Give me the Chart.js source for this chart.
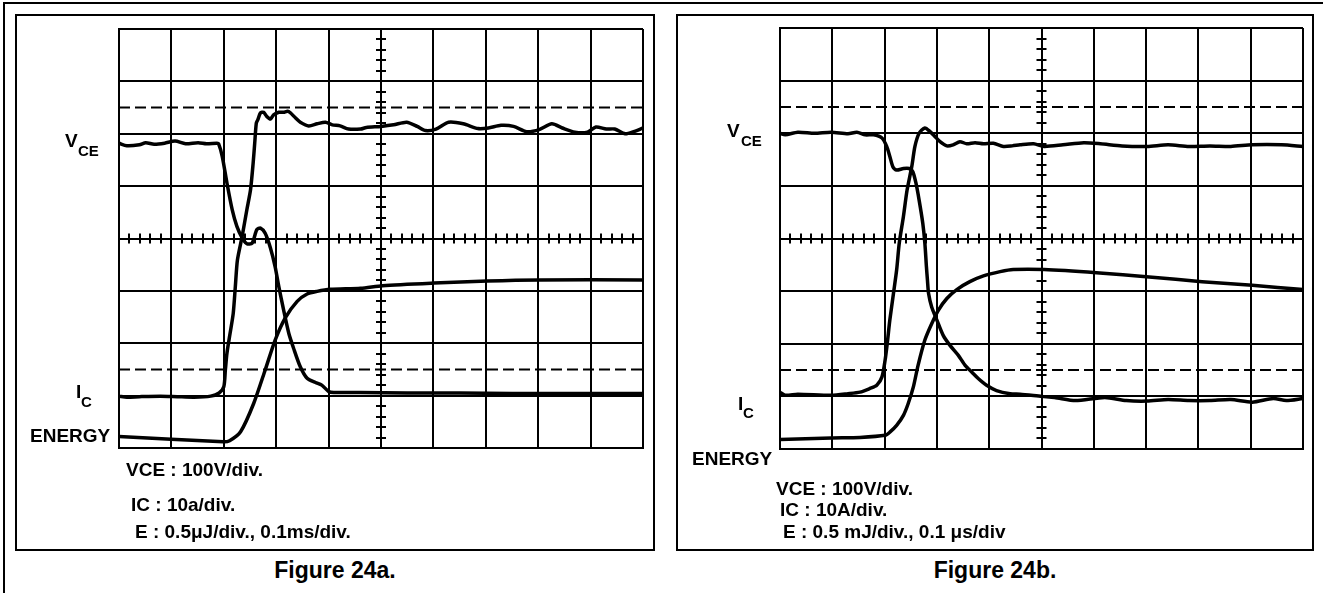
<!DOCTYPE html>
<html>
<head>
<meta charset="utf-8">
<script src="https://cdn.jsdelivr.net/npm/chart.js@4.4.1/dist/chart.umd.min.js"></script>
<style>
  html, body { margin:0; padding:0; background:#fff; width:1323px; height:593px; overflow:hidden; }
  .abs { position:absolute; box-sizing:border-box; }
  #frame { left:3px; top:2px; width:2000px; height:2000px; border-left:2px solid #000; border-top:2px solid #000; }
  .box { border:2px solid #000; }
  .cap { font: bold 23px "Liberation Sans", Arial, sans-serif; text-align:center; line-height:23px; color:#000; }
</style>
</head>
<body>
<div id="frame" class="abs"></div>
<div class="abs box" style="left:15px;top:14px;width:640px;height:537px;"></div>
<div class="abs box" style="left:676px;top:14px;width:638px;height:537px;"></div>
<canvas id="figA" class="abs" width="636" height="533" style="left:17px;top:16px;"></canvas>
<canvas id="figB" class="abs" width="634" height="533" style="left:678px;top:16px;"></canvas>
<div class="abs cap" style="left:15px;top:559px;width:640px;">Figure 24a.</div>
<div class="abs cap" style="left:676px;top:559px;width:638px;">Figure 24b.</div>
<script>
// Figure 24a
var aVceT = [0,0.15,0.39,0.51,0.67,0.87,1.07,1.27,1.51,1.67,1.87,1.90,1.97,2.06,2.16,2.25,2.35,2.44,2.54,2.63,
             2.70,2.79,2.89,2.98,3.05,3.14,3.24,3.33,3.46,3.59,3.75,3.87,4.00,4.10,4.60,5.5,6.5,7.5,8.5,10];
var aVce  = [5.82,5.77,5.79,5.83,5.80,5.82,5.86,5.81,5.83,5.81,5.82,5.81,5.57,5.06,4.55,4.23,4.01,3.90,3.91,4.17,
             4.20,4.10,3.82,3.46,3.08,2.64,2.19,1.91,1.55,1.33,1.25,1.20,1.08,1.06,1.06,1.05,1.05,1.04,1.04,1.04];
var aIcT  = [0,0.15,0.39,0.79,1.11,1.43,1.75,1.91,2.00,2.03,2.06,2.12,2.18,2.22,2.26,2.35,2.44,2.51,2.56,2.59,
             2.62,2.65,2.70,2.76,2.82,2.89,2.95,3.05,3.14,3.22,3.27,3.37,3.46,3.62,3.78,3.94,4.07,4.22,4.38,4.61,
             4.72,5.00,5.24,5.49,5.69,5.85,6.05,6.29,6.57,6.85,7.05,7.29,7.53,7.78,8.02,8.26,8.46,8.70,8.94,9.10,
             9.30,9.46,9.66,9.82,10];
var aIc   = [0.99,0.97,0.98,0.99,0.98,0.97,0.99,1.05,1.17,1.49,1.81,2.19,2.57,3.08,3.59,4.04,4.55,4.93,5.44,5.82,
             6.20,6.27,6.40,6.41,6.33,6.28,6.36,6.41,6.41,6.43,6.40,6.30,6.22,6.15,6.19,6.22,6.17,6.15,6.09,6.09,
             6.12,6.14,6.17,6.22,6.14,6.06,6.09,6.22,6.19,6.10,6.11,6.16,6.14,6.04,6.08,6.19,6.11,6.03,6.03,6.13,
             6.09,6.09,6.00,6.04,6.11];
var aEnT  = [0,1.99,2.11,2.32,2.57,2.79,2.98,3.17,3.40,3.59,3.78,4.03,4.61,5.03,6.01,7.03,8.02,10];
var aEn   = [0.22,0.12,0.14,0.31,0.85,1.49,2.06,2.48,2.80,2.94,2.99,3.03,3.05,3.10,3.15,3.19,3.21,3.21];

// Figure 24b
var bVceT = [0,0.10,0.34,0.66,0.98,1.30,1.47,1.63,1.79,1.95,2.04,2.10,2.16,2.23,2.36,2.47,2.54,2.60,2.66,2.73,
             2.77,2.80,2.82,2.84,2.90,3.00,3.12,3.25,3.41,3.54,3.67,3.79,3.95,4.14,4.40,4.59,5.01,5.25,5.65,6.21,
             6.62,7.02,7.42,7.82,8.22,8.62,9.03,9.43,9.68,10];
var bVce  = [6.00,5.97,6.02,6.00,6.02,5.99,6.02,5.97,5.97,5.91,5.75,5.56,5.36,5.30,5.33,5.33,5.27,5.05,4.73,4.29,
             3.91,3.46,3.20,2.96,2.70,2.45,2.16,1.97,1.78,1.59,1.46,1.34,1.21,1.11,1.05,1.04,1.00,0.98,0.92,0.98,
             0.92,0.91,0.94,0.92,0.92,0.94,0.89,0.96,0.92,0.96];
var bIcT  = [0,0.10,0.34,0.98,1.30,1.53,1.72,1.85,1.95,2.01,2.05,2.10,2.17,2.23,2.28,2.36,2.43,2.52,2.58,2.66,
             2.77,2.87,2.96,3.06,3.19,3.31,3.44,3.57,3.73,3.89,4.08,4.27,4.44,4.59,4.85,5.05,5.41,5.81,6.13,6.54,
             7.02,7.42,7.82,8.22,8.62,9.03,9.59,10];
var bIc   = [1.08,1.02,1.04,1.02,1.05,1.08,1.15,1.21,1.37,1.69,2.00,2.45,2.96,3.40,3.91,4.42,4.92,5.37,5.75,6.00,
             6.10,6.03,5.94,5.84,5.76,5.78,5.84,5.80,5.82,5.80,5.81,5.75,5.76,5.78,5.80,5.75,5.78,5.82,5.80,5.76,
             5.75,5.78,5.75,5.76,5.75,5.78,5.78,5.75];
var bEnT  = [0,0.98,1.53,2.01,2.10,2.23,2.36,2.45,2.55,2.64,2.77,2.90,3.03,3.19,3.38,3.63,3.89,4.21,4.46,5.05,
             6.05,7.06,8.07,9.03,10];
var bEn   = [0.18,0.21,0.22,0.26,0.32,0.45,0.64,0.86,1.18,1.59,2.07,2.38,2.64,2.86,3.03,3.18,3.29,3.37,3.41,3.41,
             3.35,3.27,3.18,3.11,3.03];

// livelli tratteggiati (divisioni)
var dashLevels = [6.5, 1.5];

function punti(t, v){
    return t.map(function(x, i){ return {x:x, y:v[i]}; });
}

// griglia centrale con le tacche minori + scritte del pannello
var scopeDecor = {
    id:'scopeDecor',
    beforeDatasetsDraw:function(chart){
        var ctx=chart.ctx, x=chart.scales.x, y=chart.scales.y;
        var cx=x.getPixelForValue(5), cy=y.getPixelForValue(4);
        ctx.save();
        ctx.strokeStyle='#000';
        ctx.lineWidth=2;
        ctx.beginPath();
        for(var i=1;i<50;i++){
            if(i%5==0) continue;
            var px=Math.round(x.getPixelForValue(i/5));
            ctx.moveTo(px, cy-5); ctx.lineTo(px, cy+5);
        }
        for(var j=1;j<40;j++){
            if(j%5==0) continue;
            var py=Math.round(y.getPixelForValue(j/5));
            ctx.moveTo(cx-5, py); ctx.lineTo(cx+5, py);
        }
        ctx.stroke();
        ctx.restore();
    },
    afterDraw:function(chart, args, opts){
        var ctx=chart.ctx;
        ctx.save();
        ctx.fillStyle='#000';
        ctx.textBaseline='alphabetic';
        (opts.labels||[]).forEach(function(l){
            ctx.font='bold '+l.size+'px "Liberation Sans", Arial, sans-serif';
            ctx.fillText(l.text, l.x, l.y);
        });
        ctx.restore();
    }
};

function caricaScope(id, tracce, padding, labels){
    var ds=[];
    dashLevels.forEach(function(lv){
        ds.push({data:[{x:0,y:lv},{x:10,y:lv}], borderColor:'#000', borderWidth:2, borderDash:[11,5], pointRadius:0});
    });
    tracce.forEach(function(tr){
        ds.push({data:punti(tr[0], tr[1]), borderColor:'#000', borderWidth:3.5, pointRadius:0, tension:0.25});
    });
    var asse={
        type:'linear',
        ticks:{display:false, stepSize:1},
        grid:{color:'#000', lineWidth:2, drawTicks:false},
        border:{display:true, color:'#000', width:2}
    };
    new Chart(document.getElementById(id).getContext('2d'),{
        type:'line',
        data:{datasets:ds},
        options:{
            responsive:false,
            animation:false,
            layout:{padding:padding},
            plugins:{
                legend:{display:false},
                tooltip:{enabled:false},
                scopeDecor:{labels:labels}
            },
            scales:{
                x:Object.assign({min:0,max:10}, JSON.parse(JSON.stringify(asse))),
                y:Object.assign({min:0,max:8}, JSON.parse(JSON.stringify(asse)))
            }
        },
        plugins:[scopeDecor]
    });
}

// coordinate delle scritte relative al canvas
caricaScope('figA', [[aVceT,aVce],[aIcT,aIc],[aEnT,aEn]], {left:102,right:10,top:13,bottom:101}, [
    {text:'V', x:48, y:131, size:19},
    {text:'CE', x:61, y:140, size:15},
    {text:'I', x:59, y:382, size:19},
    {text:'C', x:64, y:391, size:15},
    {text:'ENERGY', x:13, y:426, size:19},
    {text:'VCE : 100V/div.', x:109, y:460, size:19},
    {text:'IC : 10a/div.', x:114, y:495, size:19},
    {text:'E : 0.5\u03bcJ/div., 0.1ms/div.', x:118, y:522, size:19}
]);

caricaScope('figB', [[bVceT,bVce],[bIcT,bIc],[bEnT,bEn]], {left:102,right:9,top:12,bottom:100}, [
    {text:'V', x:49, y:121, size:19},
    {text:'CE', x:63, y:130, size:15},
    {text:'I', x:60, y:394, size:19},
    {text:'C', x:65, y:402, size:15},
    {text:'ENERGY', x:14, y:449, size:19},
    {text:'VCE : 100V/div.', x:98, y:479, size:19},
    {text:'IC : 10A/div.', x:102, y:500, size:19},
    {text:'E : 0.5 mJ/div., 0.1 \u03bcs/div', x:105, y:522, size:19}
]);
</script>
</body>
</html>
